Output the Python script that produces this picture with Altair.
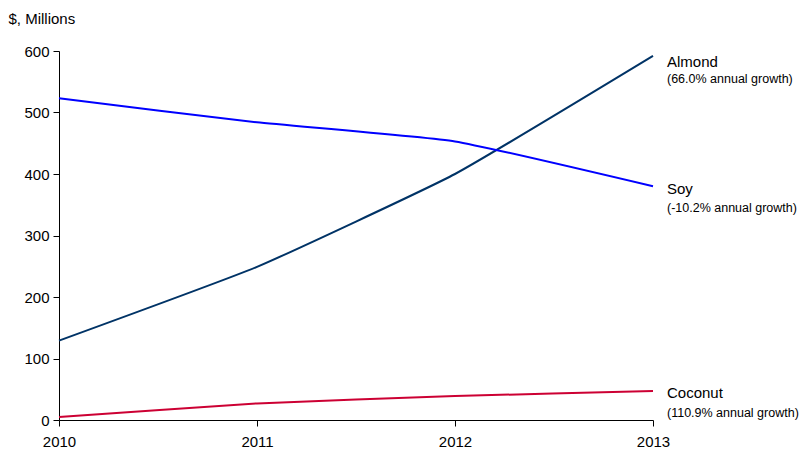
import altair as alt
import pandas as pd

years = [2010, 2011, 2012, 2013]
almond = [129, 249, 400, 592]
soy = [523, 484, 453, 380]
coconut = [5, 27, 39, 47]
series_names = ["Almond", "Soy", "Coconut"]
growth_labels = ["(66.0% annual growth)", "(-10.2% annual growth)", "(110.9% annual growth)"]
colors = ["#003366", "#0000FF", "#CC0033"]

rows = []
for name, vals in zip(series_names, [almond, soy, coconut]):
    for y, v in zip(years, vals):
        rows.append({"year": y, "value": v, "series": name})
df = pd.DataFrame(rows)

lab = pd.DataFrame({
    "series": series_names,
    "year": [years[-1]] * 3,
    "value": [almond[-1], soy[-1], coconut[-1]],
    "growth": growth_labels,
})

FONT = "Liberation Sans"

x = alt.X("year:Q",
          scale=alt.Scale(domain=[2010, 2013], nice=False, zero=False),
          axis=alt.Axis(values=years, format="d", title=None, grid=False,
                        domainColor="black", tickColor="black", tickSize=6,
                        labelFontSize=15, labelColor="black", labelFont=FONT,
                        labelPadding=8, labelFlush=False))
y = alt.Y("value:Q",
          scale=alt.Scale(domain=[0, 600], nice=False),
          axis=alt.Axis(values=[0, 100, 200, 300, 400, 500, 600], title="$, Millions",
                        grid=False, domainColor="black", tickColor="black", tickSize=6,
                        labelFontSize=15, labelColor="black", labelFont=FONT, labelPadding=4,
                        titleAngle=0, titleX=-51, titleY=-28, titleAlign="left",
                        titleBaseline="alphabetic", titleFontSize=15, titleFontWeight="normal",
                        titleFont=FONT, titleColor="black"))

color = alt.Color("series:N", scale=alt.Scale(domain=series_names, range=colors), legend=None)

lines = alt.Chart(df).mark_line(strokeWidth=2, interpolate="cardinal", tension=0.6).encode(
    x=x, y=y, color=color)

layers = [lines]
name_dy = {"Almond": 11, "Soy": 8, "Coconut": 7}
growth_dy = {"Almond": 27, "Soy": 26, "Coconut": 26}
for s in series_names:
    sub = alt.Chart(lab).transform_filter(alt.datum.series == s)
    layers.append(sub.mark_text(align="left", baseline="alphabetic", dx=14, dy=name_dy[s],
                                fontSize=15, font=FONT, color="black")
                  .encode(x="year:Q", y="value:Q", text="series:N"))
    layers.append(sub.mark_text(align="left", baseline="alphabetic", dx=14, dy=growth_dy[s],
                                fontSize=12.5, font=FONT, color="black")
                  .encode(x="year:Q", y="value:Q", text="growth:N"))

chart = alt.layer(*layers).properties(
    width=594, height=369,
    background="white",
    autosize=alt.AutoSizeParams(type="none"),
    padding={"left": 51, "top": 43, "right": 149, "bottom": 30},
).configure_view(strokeWidth=0, stroke="transparent").configure_axis(grid=False)

chart.save("out.html", embed_options={"renderer": "svg", "actions": False})
